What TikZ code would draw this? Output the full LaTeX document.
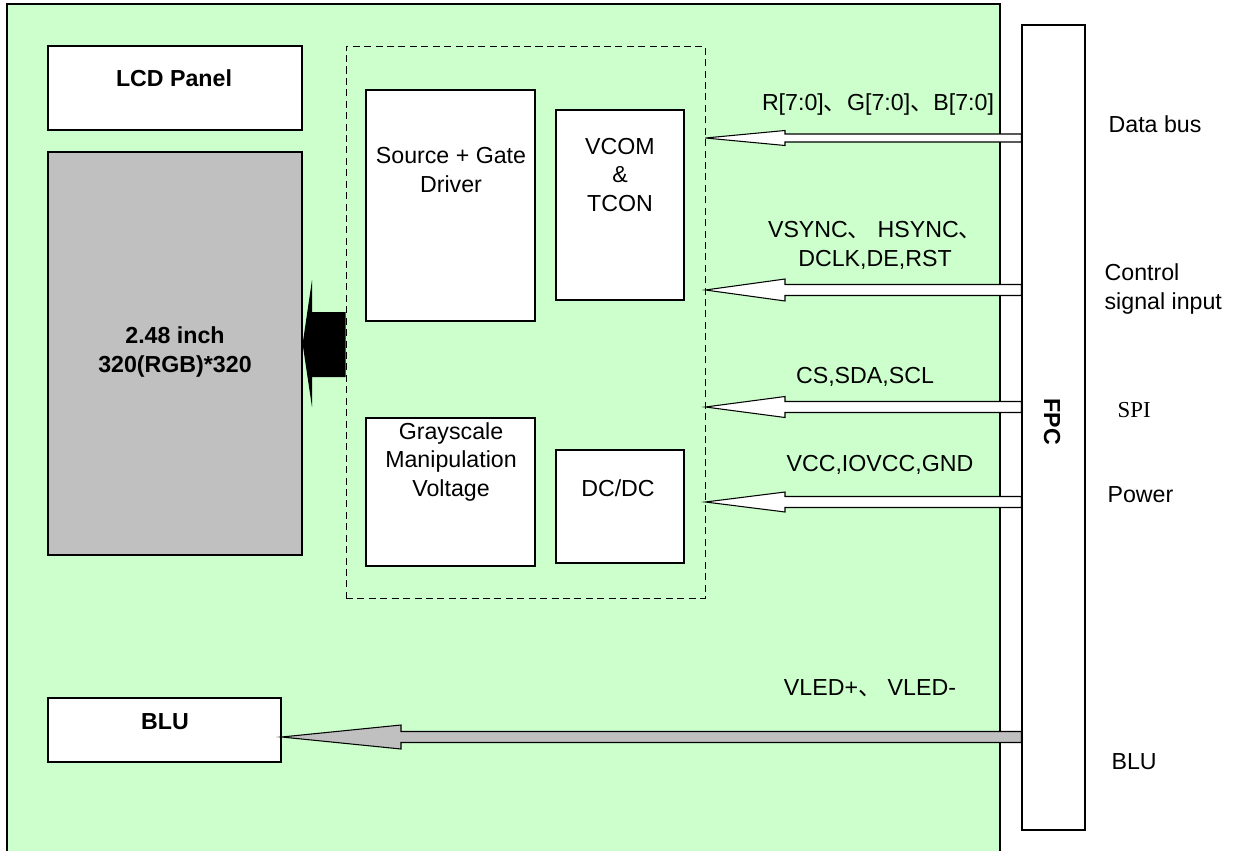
\documentclass[tikz,border=0pt]{standalone}
\usepackage{fontspec}
\setmainfont{Liberation Sans}
\newfontfamily\cjk{Noto Sans CJK SC}
\newfontfamily\serifsym{Liberation Serif}
\usetikzlibrary{fit,positioning}
\definecolor{boardgreen}{HTML}{CCFFCC}
\definecolor{panelgray}{HTML}{C0C0C0}
\newcommand{\dun}{{\cjk 、}}
\begin{document}
\begin{tikzpicture}[x=0.02cm,y=-0.02cm,line width=0.7pt,
        txt/.style={font=\fontsize{13.2}{16.4}\selectfont,align=center,inner sep=0pt},
        boldtxt/.style={txt,font=\fontsize{13.2}{16.4}\selectfont\bfseries},
        box/.style={draw,fill=white,inner sep=0pt},
        bus/.style={draw,fill=white,line width=0.6pt}]
    \useasboundingbox (0,0) rectangle (1244,851);
    \fill[boardgreen] (7,4) rectangle (1000,851);
    \draw (7,851)--(7,4)--(1000,4)--(1000,851);
    % panel side
    \node[box,fit={(48,46) (302,130)}] (panel) {};
    \node[boldtxt] (paneltxt) at (174,78) {LCD Panel};
    \node[box,fill=panelgray,fit={(48,152) (302,555)}] (glass) {};
    \node[boldtxt] (glasstxt) at (175,352) {2.48 inch\\320(RGB)*320};
    \node[box,fit={(48,698) (281,762)}] (blu) {};
    \node[boldtxt] (blutxt) at (165,722) {BLU};
    % driver IC
    \node[draw,dash pattern=on 4pt off 2.5pt,line width=0.5pt,inner sep=0pt,fit={(346,46) (705,598)}] (ic) {};
    \node[box,fit={(366,90) (535,321)}] (src) {};
    \node[txt] (srctxt) at (451,170) {Source + Gate\\Driver};
    \node[box,fit={(556,110) (684,300)}] (tcon) {};
    \node[txt] (tcontxt) at (620,175) {VCOM\\\&\\TCON};
    \node[box,fit={(366,418) (535,566)}] (gray) {};
    \node[txt] (graytxt) at (451,462) {Grayscale\\Manipulation\\Voltage};
    \node[box,fit={(556,450) (684,563)}] (dcdc) {};
    \node[txt] (dcdctxt) at (618,488) {DC/DC};
    \fill (ic.west |- 0,312)--(312,312)--(312,280)--(glass.east |- 0,344)--(312,407)--(312,377)--(ic.west |- 0,377)--cycle;
    % connector
    \node[box,fit={(1022,25) (1085,830)}] (fpc) {};
    \node[boldtxt,rotate=-90] (fpctxt) at (1052,422) {FPC};
    \foreach \y/\h/\w in {138/4/7.5,290/5.5/11,407/5.5/10.5,502/5.5/10}
        \draw[bus] (fpc.west |- 0,\y-\h)--(785,\y-\h)--(785,\y-\w)--(ic.east |- 0,\y)
            --(785,\y+\w)--(785,\y+\h)--(fpc.west |- 0,\y+\h)--cycle;
    \draw[bus,fill=panelgray] (fpc.west |- 0,731.5)--(401,731.5)--(401,725)--(blu.east |- 0,737)
        --(401,749)--(401,742.5)--(fpc.west |- 0,742.5)--cycle;
    % bus labels
    \node[txt] (rgb) at (878,105) {R[7:0]\dun G[7:0]\dun B[7:0]};
    \node[txt] (sync) at (875,245) {VSYNC{\cjk 、} HSYNC{\cjk 、}\\DCLK,DE,RST};
    \node[txt] (spibus) at (865,377) {CS,SDA,SCL};
    \node[txt] (pwrbus) at (880,465) {VCC,IOVCC,GND};
    \node[txt] (ledbus) at (870,688) {VLED+{\cjk 、} VLED-};
    % right side
    \node[txt,anchor=west] (databus) at (1108,124) {Data bus};
    \node[txt,anchor=west,align=left] (ctrl) at (1104,289) {Control\\signal input};
    \node[txt,anchor=west,font=\fontsize{13}{16}\serifsym] (spi) at (1117,410) {SPI};
    \node[txt,anchor=west] (power) at (1107,495) {Power};
    \node[txt,anchor=west] (blulbl) at (1111,762) {BLU};
\end{tikzpicture}
\end{document}
